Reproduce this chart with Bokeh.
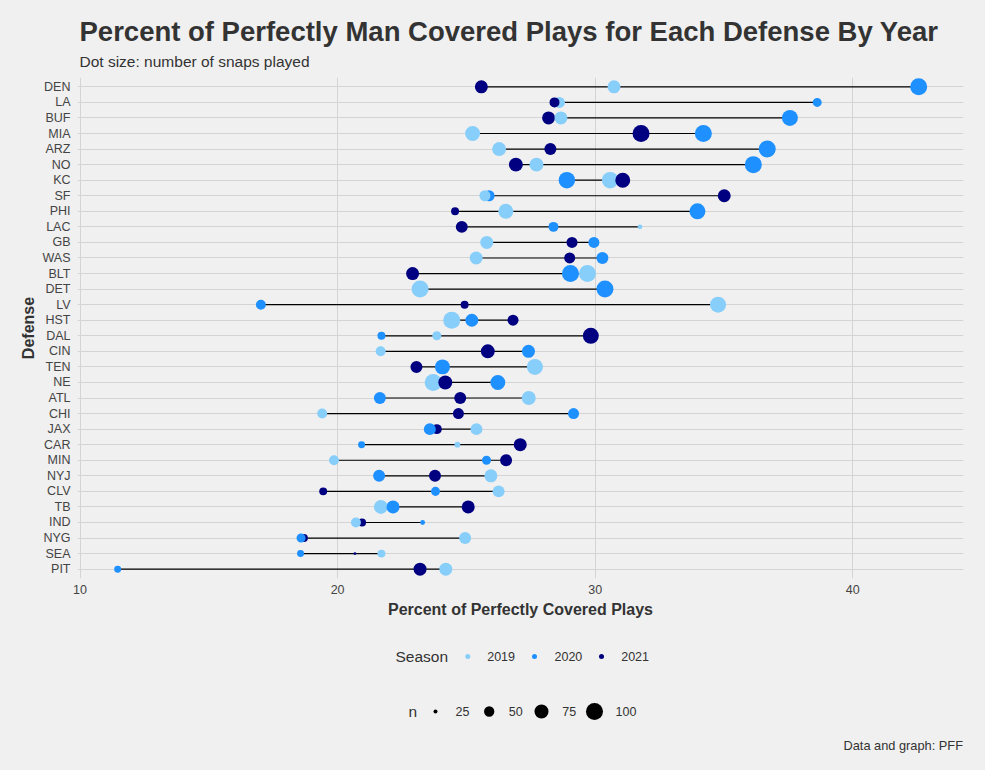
import numpy as np
import pandas as pd
from bokeh.plotting import figure
from bokeh.layouts import column
from bokeh.models import Range1d, FactorRange, FixedTicker, ColumnDataSource
from bokeh.core.properties import value
from bokeh.embed import file_html
from bokeh.resources import INLINE

# ---------------- data ----------------
teams = ["DEN", "LA", "BUF", "MIA", "ARZ", "NO", "KC", "SF", "PHI", "LAC", "GB", "WAS",
         "BLT", "DET", "LV", "HST", "DAL", "CIN", "TEN", "NE", "ATL", "CHI", "JAX", "CAR",
         "MIN", "NYJ", "CLV", "TB", "IND", "NYG", "SEA", "PIT"]

# one entry per point, in drawing order
pt_team = ["DEN", "DEN", "DEN",
           "LA", "LA", "LA",
           "BUF", "BUF", "BUF",
           "MIA", "MIA", "MIA",
           "ARZ", "ARZ", "ARZ",
           "NO", "NO", "NO",
           "KC", "KC", "KC",
           "SF", "SF", "SF",
           "PHI", "PHI", "PHI",
           "LAC", "LAC", "LAC",
           "GB", "GB", "GB",
           "WAS", "WAS", "WAS",
           "BLT", "BLT", "BLT",
           "DET", "DET",
           "LV", "LV", "LV",
           "HST", "HST", "HST",
           "DAL", "DAL", "DAL",
           "CIN", "CIN", "CIN",
           "TEN", "TEN", "TEN",
           "NE", "NE", "NE",
           "ATL", "ATL", "ATL",
           "CHI", "CHI", "CHI",
           "JAX", "JAX", "JAX",
           "CAR", "CAR", "CAR",
           "MIN", "MIN", "MIN",
           "NYJ", "NYJ", "NYJ",
           "CLV", "CLV", "CLV",
           "TB", "TB", "TB",
           "IND", "IND", "IND",
           "NYG", "NYG", "NYG",
           "SEA", "SEA", "SEA",
           "PIT", "PIT", "PIT"]
pt_season = ["2021", "2019", "2020",
             "2019", "2021", "2020",
             "2021", "2019", "2020",
             "2019", "2021", "2020",
             "2019", "2021", "2020",
             "2021", "2019", "2020",
             "2020", "2019", "2021",
             "2020", "2019", "2021",
             "2021", "2019", "2020",
             "2021", "2020", "2019",
             "2019", "2021", "2020",
             "2019", "2021", "2020",
             "2021", "2020", "2019",
             "2019", "2020",
             "2020", "2021", "2019",
             "2019", "2020", "2021",
             "2020", "2019", "2021",
             "2019", "2021", "2020",
             "2021", "2020", "2019",
             "2019", "2021", "2020",
             "2020", "2021", "2019",
             "2019", "2021", "2020",
             "2021", "2020", "2019",
             "2020", "2019", "2021",
             "2019", "2020", "2021",
             "2020", "2021", "2019",
             "2021", "2020", "2019",
             "2019", "2020", "2021",
             "2021", "2019", "2020",
             "2021", "2020", "2019",
             "2020", "2021", "2019",
             "2020", "2021", "2019"]
pt_pct = [25.58, 30.73, 42.56,
          28.61, 28.42, 38.62,
          28.19, 28.67, 37.56,
          25.24, 31.78, 34.20,
          26.27, 28.26, 36.68,
          26.92, 27.72, 36.14,
          28.90, 30.58, 31.07,
          25.88, 25.72, 35.01,
          24.56, 26.53, 33.97,
          24.82, 28.38, 31.74,
          25.79, 29.10, 29.95,
          25.38, 29.01, 30.28,
          22.91, 29.04, 29.70,
          23.20, 30.38,
          17.02, 24.93, 34.77,
          24.43, 25.21, 26.81,
          21.70, 23.85, 29.83,
          21.67, 25.83, 27.41,
          23.06, 24.07, 27.66,
          23.71, 24.18, 26.22,
          21.64, 24.76, 27.42,
          19.40, 24.69, 29.16,
          23.85, 23.58, 25.39,
          20.93, 24.65, 27.09,
          19.86, 25.78, 26.54,
          21.61, 23.78, 25.95,
          19.44, 23.80, 26.25,
          21.68, 22.15, 25.07,
          20.95, 20.71, 23.30,
          18.69, 18.58, 24.95,
          18.56, 20.67, 21.70,
          11.46, 23.20, 24.20]
pt_n = [67, 67, 100,
        54, 48, 43,
        67, 67, 91,
        82, 100, 100,
        74, 60, 100,
        74, 74, 100,
        95, 95, 82,
        54, 54, 67,
        38, 82, 91,
        60, 48, 27,
        67, 54, 54,
        67, 54, 60,
        67, 100, 100,
        100, 100,
        48, 38, 91,
        100, 67, 54,
        38, 43, 91,
        48, 74, 67,
        60, 82, 91,
        100, 74, 82,
        60, 60, 74,
        48, 54, 54,
        48, 60, 60,
        34, 30, 67,
        48, 43, 60,
        60, 60, 67,
        38, 43, 60,
        74, 67, 67,
        38, 48, 27,
        38, 43, 60,
        34, 23, 38,
        34, 67, 67]

season_labels = ["2019", "2020", "2021"]
season_colors = ["#87CEFA", "#1E90FF", "#000080"]
size_breaks = [25, 50, 75, 100]
x_ticks = [10, 20, 30, 40]

title_text = "Percent of Perfectly Man Covered Plays for Each Defense By Year"
subtitle_text = "Dot size: number of snaps played"
caption_text = "Data and graph: PFF"

# ---------------- styling ----------------
FONT = "Liberation Sans"
BG = "#F0F0F0"
TXT = "#333333"
W = 985
LEFT, RIGHT = 77, 22          # frame borders (shared by all stacked figures)
FX0, FX1 = LEFT, W - RIGHT    # frame edges in page pixels


def dot_size(n):
    n = np.asarray(n, dtype=float)
    return np.sqrt(np.maximum(3.64 * n - 75.0, 4.0))


cmap = dict(zip(season_labels, season_colors))
df = pd.DataFrame({"team": pt_team, "season": pt_season, "pct": pt_pct, "n": pt_n})
df["color"] = df["season"].map(cmap)
df["size"] = dot_size(df["n"])
seg = df.groupby("team")["pct"].agg(["min", "max"]).reset_index()
seg.columns = ["team", "lo", "hi"]


# ---------------- helper for text-only strips (page-pixel coordinates) ----------------
def blank(h, ytop, ybot):
    f = figure(width=W, height=h, x_range=Range1d(FX0, FX1), y_range=Range1d(ybot, ytop),
               output_backend="svg", toolbar_location=None,
               background_fill_color=BG, border_fill_color=BG, outline_line_color=None,
               min_border_left=LEFT, min_border_right=RIGHT, min_border_top=0, min_border_bottom=0,
               x_axis_location=None, y_axis_location=None)
    f.grid.visible = False
    return f


head = blank(77, 0, 77)
head.text(x=[79], y=[31], text=[title_text], text_font=value(FONT), text_font_size="27.5px",
          text_font_style="bold", text_color=TXT, text_baseline="middle", text_align="left")
head.text(x=[79], y=[60.5], text=[subtitle_text], text_font=value(FONT), text_font_size="15.5px",
          text_color=TXT, text_baseline="middle", text_align="left")

# ---------------- main plot ----------------
p = figure(width=W, height=548,
           y_range=FactorRange(factors=teams[::-1], range_padding=0.1, range_padding_units="absolute"),
           x_range=Range1d(9.9, 44.3),
           output_backend="svg", toolbar_location=None,
           background_fill_color=BG, border_fill_color=BG, outline_line_color=None,
           min_border_left=LEFT, min_border_right=RIGHT, min_border_top=0, min_border_bottom=47)

p.segment(x0="lo", y0="team", x1="hi", y1="team", source=ColumnDataSource(seg),
          line_color="black", line_width=1.2)
p.scatter(x="pct", y="team", size="size", fill_color="color", line_color=None,
          source=ColumnDataSource(df))

p.xaxis.ticker = FixedTicker(ticks=x_ticks)
p.xgrid.ticker = FixedTicker(ticks=x_ticks)
p.grid.grid_line_color = "#D4D4D4"
p.grid.grid_line_width = 1
p.axis.axis_line_color = None
p.axis.major_tick_line_color = None
p.axis.minor_tick_line_color = None
p.axis.major_tick_out = 0
p.axis.major_tick_in = 0
p.axis.minor_tick_out = 0
p.axis.minor_tick_in = 0
p.axis.major_label_text_font = FONT
p.axis.major_label_text_font_size = "12.5px"
p.axis.major_label_text_color = "#444444"
p.xaxis.major_label_standoff = 6
p.yaxis.major_label_standoff = 7
p.xaxis.axis_label = "Percent of Perfectly Covered Plays"
p.yaxis.axis_label = "Defense"
p.axis.axis_label_text_font = FONT
p.axis.axis_label_text_font_size = "16px"
p.axis.axis_label_text_font_style = "bold"
p.axis.axis_label_text_color = TXT
p.xaxis.axis_label_standoff = 4
p.yaxis.axis_label_standoff = 2

# ---------------- legends + caption ----------------
leg = blank(145, 625, 770)
row1_y = 656
leg.text(x=[395], y=[row1_y], text=["Season"], text_font=value(FONT), text_font_size="15.5px",
         text_color=TXT, text_baseline="middle", text_align="left")
s_dot_x = [467.3, 534.0, 601.0]
s_lab_x = [486.7, 554.0, 620.7]
leg.scatter(x=s_dot_x, y=[row1_y] * 3, size=5, fill_color=season_colors, line_color=None)
leg.text(x=s_lab_x, y=[row1_y] * 3, text=season_labels, text_font=value(FONT),
         text_font_size="12.5px", text_color=TXT, text_baseline="middle", text_align="left")

row2_y = 711
leg.text(x=[412.3], y=[row2_y], text=["n"], text_font=value(FONT), text_font_size="15.5px",
         text_color=TXT, text_baseline="middle", text_align="center")
n_dot_x = [435.0, 488.7, 541.0, 594.0]
n_lab_x = [455.0, 508.3, 561.7, 615.0]
leg.scatter(x=n_dot_x, y=[row2_y] * 4, size=dot_size(size_breaks), fill_color="black", line_color=None)
leg.text(x=n_lab_x, y=[row2_y] * 4, text=[str(b) for b in size_breaks], text_font=value(FONT),
         text_font_size="12.5px", text_color=TXT, text_baseline="middle", text_align="left")

leg.text(x=[962.5], y=[745], text=[caption_text], text_font=value(FONT), text_font_size="12.8px",
         text_color=TXT, text_baseline="middle", text_align="right")

layout = column(head, p, leg, spacing=0)
page_css = ("{% block postamble %}<style>html, body { background-color: #F0F0F0; margin: 0; padding: 0; }"
            "</style>{% endblock %}")
open("out.html", "w").write(file_html(layout, INLINE, template=page_css))
